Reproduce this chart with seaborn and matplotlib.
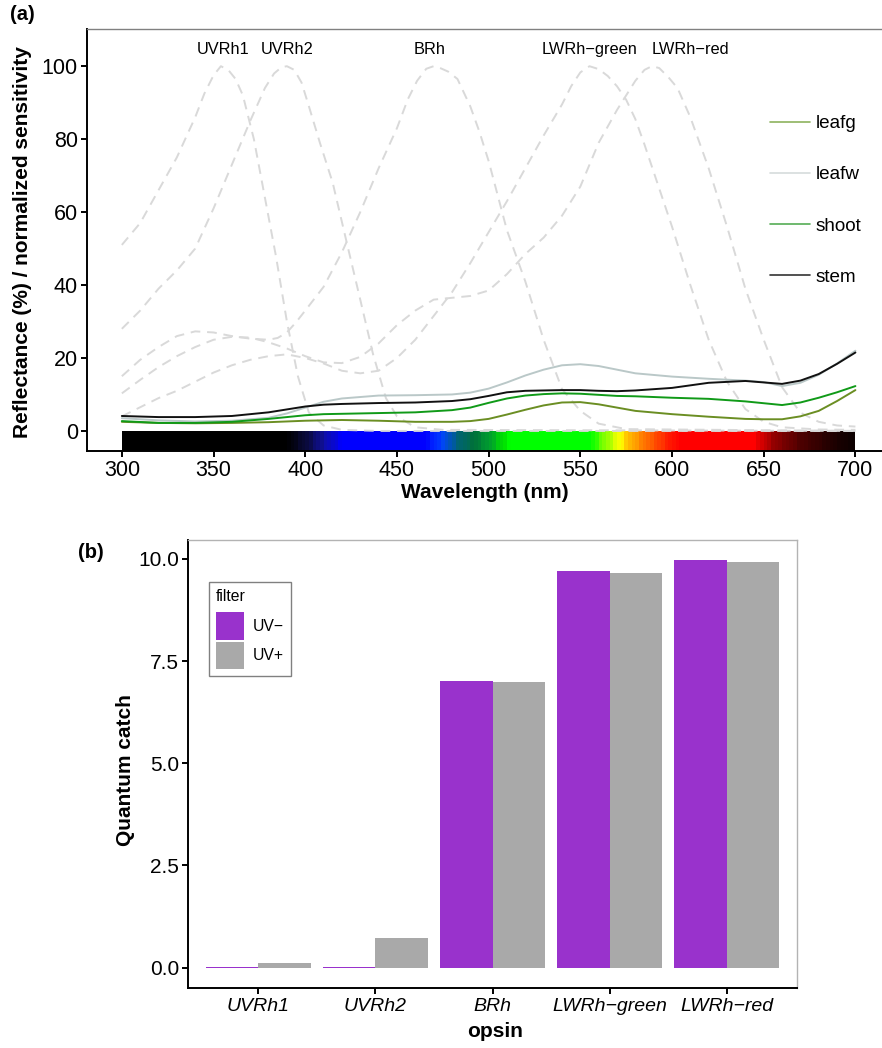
import numpy as np
import pandas as pd
import matplotlib
matplotlib.use("Agg")
import matplotlib.pyplot as plt
from matplotlib.colors import LinearSegmentedColormap
from matplotlib.lines import Line2D
import seaborn as sns

# ─────────────────────────────────────────
# Data: opsin sensitivity curves (normalized, %)
# ─────────────────────────────────────────
UVRH1_WL = [300, 310, 320, 330, 340, 345, 350, 354, 358, 362, 366, 372, 378, 384, 390, 396, 402, 410, 420, 440, 700]
UVRH1 = [51, 57, 66, 75, 86, 92.5, 97.5, 100, 99, 96.5, 92, 80, 64, 48, 30, 15, 5, 1.5, 0.3, 0, 0]

UVRH2_WL = [300, 310, 320, 330, 340, 350, 360, 370, 378, 383, 387, 390, 394, 398, 402, 408, 415, 422, 430, 437,
            444, 450, 460, 475, 700]
UVRH2 = [28, 33, 39, 44, 50, 61, 73, 85, 94, 98, 99.7, 100, 99, 95.5, 89, 79, 68, 53, 36, 21,
         9, 4, 1, 0.3, 0]

BRH_WL = [300, 310, 320, 330, 340, 350, 360, 370, 380, 385, 390, 395, 400, 410, 420, 430, 440, 450, 456, 461,
          466, 470, 474, 478, 483, 490, 495, 500, 510, 520, 530, 540, 550, 560, 575, 700]
BRH = [15, 19.5, 23, 26, 27.3, 27, 26, 25.3, 25, 25.5, 27, 29.8, 33, 39.5, 49, 60, 72, 83, 91, 96,
       99.3, 100, 99.4, 98.5, 96.5, 89, 82, 74, 55, 41, 25, 11.5, 5.5, 2, 0.5, 0]

LWG_WL = [300, 310, 320, 330, 340, 350, 360, 370, 380, 390, 400, 410, 420, 430, 440, 450, 460, 470, 480, 490,
          500, 510, 520, 530, 540, 545, 550, 555, 560, 565, 570, 575, 580, 585, 590, 600, 610, 620, 630, 640,
          650, 660, 680, 700]
LWG = [4, 6.5, 9, 11, 13.5, 16, 18, 19.5, 20.5, 21, 20, 18.5, 16.5, 15.8, 16.5, 20, 25, 31.5, 38, 46,
       54.5, 63, 72, 81, 89.5, 94.5, 98.3, 100, 99.2, 97.3, 94.5, 90.8, 85.5, 78.5, 71, 56, 40, 25, 13.5, 6,
       2.5, 1, 0.4, 0.3]

LWR_WL = [300, 310, 320, 330, 340, 350, 360, 370, 380, 390, 400, 410, 420, 430, 440, 450, 460, 470, 480, 490,
          500, 510, 520, 530, 540, 550, 560, 570, 580, 585, 589, 593, 598, 603, 610, 620, 630, 640, 650, 660,
          670, 680, 690, 700]
LWR = [10.3, 14, 17.5, 20.5, 23, 25, 25.8, 25.6, 24.3, 22.6, 20.5, 18.8, 18.6, 20.3, 24, 29, 33, 36, 36.5, 37,
       38.5, 43, 48.5, 53, 59, 67, 79, 88, 96, 99, 100, 99.5, 97, 94, 86, 72, 56, 39, 25, 12,
       5, 2.5, 1.5, 1.2]

OPSINS = ["UVRh1", "UVRh2", "BRh", "LWRh\u2212green", "LWRh\u2212red"]
OPSIN_LABEL_X = [355, 390, 468, 555, 610]

# ─────────────────────────────────────────
# Data: reflectance spectra (%)
# ─────────────────────────────────────────
REFL_WL = [300, 320, 340, 360, 380, 390, 400, 410, 420, 440, 460, 480, 490, 500, 510, 520, 530, 540, 550,
           560, 570, 580, 600, 620, 640, 650, 660, 670, 680, 690, 700]
LEAFG = [2.5, 2.2, 2.1, 2.2, 2.4, 2.6, 2.8, 2.9, 3.0, 2.8, 2.5, 2.5, 2.7, 3.3, 4.5, 5.8, 7.0, 7.8, 7.9,
         7.3, 6.4, 5.5, 4.6, 3.9, 3.3, 3.2, 3.2, 4.0, 5.5, 8.2, 11.2]
LEAFW = [3.5, 2.9, 2.6, 2.8, 3.6, 4.8, 6.4, 8.0, 8.9, 9.7, 9.8, 10.0, 10.5, 11.6, 13.3, 15.2, 16.8, 18.0, 18.3,
         17.8, 16.8, 15.8, 14.9, 14.3, 13.8, 13.4, 12.3, 13.2, 15.4, 18.5, 22.0]
SHOOT = [2.7, 2.2, 2.2, 2.5, 3.3, 3.8, 4.3, 4.6, 4.7, 4.9, 5.1, 5.7, 6.4, 7.7, 8.9, 9.7, 10.1, 10.3, 10.2,
         9.9, 9.6, 9.5, 9.1, 8.8, 8.1, 7.6, 7.1, 7.8, 9.1, 10.6, 12.3]
STEM = [4.1, 3.8, 3.8, 4.1, 5.1, 5.9, 6.7, 7.2, 7.4, 7.65, 7.8, 8.2, 8.7, 9.6, 10.6, 11.0, 11.1, 11.2, 11.2,
        11.0, 10.9, 11.1, 11.8, 13.2, 13.7, 13.3, 12.9, 13.8, 15.6, 18.4, 21.5]
TISSUES = ["leafg", "leafw", "shoot", "stem"]

# spectrum colour stops (wavelength, colour)
SPEC_WL = [300, 390, 400, 410, 420, 465, 475, 482, 492, 500, 508, 512, 556, 565, 572, 578, 588, 598,
           604, 646, 655, 670, 690, 700]
SPEC_COL = ["#000000", "#000000", "#0a0a3a", "#1010a0", "#0000ff", "#0000ff", "#0044ff", "#006080",
            "#00703a", "#009a30", "#00e000", "#00ff00", "#00ff00", "#99ff00", "#ffff00", "#ffb000",
            "#ff6000", "#ff2000", "#ff0000", "#ff0000", "#990000", "#500000", "#1a0000", "#0d0000"]

# ─────────────────────────────────────────
# Data: quantum catch
# ─────────────────────────────────────────
FILTERS = ["UV\u2212", "UV+"]
QC_UVMINUS = [0.02, 0.02, 7.02, 9.70, 9.96]
QC_UVPLUS = [0.12, 0.72, 6.98, 9.65, 9.93]

# ─────────────────────────────────────────
# Style
# ─────────────────────────────────────────
sns.set_theme(style="ticks")
plt.rcParams["font.family"] = ["Liberation Sans", "DejaVu Sans"]
plt.rcParams["axes.unicode_minus"] = True
for key in ["text.color", "axes.labelcolor", "xtick.color", "ytick.color", "legend.labelcolor"]:
    plt.rcParams[key] = "black"

LINE_COL = {"leafg": "#6b8e23", "leafw": "#bac8c8", "shoot": "#109a18", "stem": "#111111"}
LEG_COL = {"leafg": "#8db35d", "leafw": "#d6dcdc", "shoot": "#55ad55", "stem": "#333333"}
DASH_COL = "#d9d9d9"
BAR_COL = {"UV\u2212": "#9932cc", "UV+": "#a9a9a9"}
TITLE_FS = 15

W, H = 882, 1048
fig = plt.figure(figsize=(W / 100, H / 100), dpi=100)
ax1 = fig.add_axes([87 / W, 1 - 451 / H, (W - 87) / W, (451 - 29) / H])
ax2 = fig.add_axes([188 / W, 1 - 988 / H, (797 - 188) / W, (988 - 540) / H])

# ─────────────────────────────────────────
# (a) spectra
# ─────────────────────────────────────────
curves = [(UVRH1_WL, UVRH1), (UVRH2_WL, UVRH2), (BRH_WL, BRH), (LWG_WL, LWG), (LWR_WL, LWR)]
for wl, val in curves:
    sns.lineplot(x=wl, y=val, ax=ax1, color=DASH_COL, lw=1.4, estimator=None,
                 dashes=False, linestyle=(0, (5, 3.5)))

refl = pd.DataFrame({
    "wl": REFL_WL * 4,
    "refl": LEAFG + LEAFW + SHOOT + STEM,
    "tissue": np.repeat(TISSUES, len(REFL_WL)),
})
sns.lineplot(data=refl, x="wl", y="refl", hue="tissue", palette=LINE_COL,
             estimator=None, lw=1.4, ax=ax1, legend=False)

cmap = LinearSegmentedColormap.from_list(
    "spec", [((w - 300) / 400, c) for w, c in zip(SPEC_WL, SPEC_COL)])
steps = np.arange(300, 700, 2)
ax1.bar(steps, 5.5, bottom=-5.5, width=2, align="edge",
        color=cmap((steps + 1 - 300) / 400), linewidth=0)

for name, xpos in zip(OPSINS, OPSIN_LABEL_X):
    ax1.text(xpos, 104.7, name, ha="center", va="center", fontsize=11.8, color="black")

ax1.set_xlim(281, 714.5)
ax1.set_ylim(-5.5, 110.2)
ax1.set_xticks(range(300, 701, 50))
ax1.set_yticks(range(0, 101, 20))
ax1.set_xlabel("Wavelength (nm)", fontsize=TITLE_FS, fontweight="bold")
ax1.set_ylabel("Reflectance (%) / normalized sensitivity", fontsize=TITLE_FS, fontweight="bold")
ax1.xaxis.set_label_coords(0.5, -0.077)
ax1.yaxis.set_label_coords(-0.069, 0.495)
ax1.spines["right"].set_visible(False)
ax1.spines["top"].set_color("#808080")
ax1.spines["top"].set_linewidth(1.0)
for s in ["left", "bottom"]:
    ax1.spines[s].set_color("black")
    ax1.spines[s].set_linewidth(1.4)
ax1.tick_params(axis="both", colors="black", length=4.5, width=1.4, labelsize=15.5, pad=2)

handles = [Line2D([0], [0], color=LEG_COL[t], lw=1.2) for t in TISSUES]
leg1 = ax1.legend(handles, TISSUES, loc="upper left", bbox_to_anchor=(770 / W, 1 - 115 / H),
                  bbox_transform=fig.transFigure, frameon=False, fontsize=13.6,
                  handlelength=2.1, handletextpad=0.32, labelspacing=1.8,
                  borderaxespad=0, borderpad=0)

fig.text(10 / W, 1 - 14 / H, "(a)", fontsize=14.5, fontweight="bold", va="center", ha="left")

# ─────────────────────────────────────────
# (b) quantum catch
# ─────────────────────────────────────────
qc = pd.DataFrame({
    "opsin": OPSINS * 2,
    "catch": QC_UVMINUS + QC_UVPLUS,
    "filter": np.repeat(FILTERS, len(OPSINS)),
})
sns.barplot(data=qc, x="opsin", y="catch", hue="filter", order=OPSINS, hue_order=FILTERS,
            palette=BAR_COL, width=0.9, gap=0, linewidth=0, saturation=1, ax=ax2)

ax2.set_xlim(-0.6, 4.6)
ax2.set_ylim(-0.498, 10.46)
ax2.set_yticks([0, 2.5, 5, 7.5, 10])
ax2.set_yticklabels(["0.0", "2.5", "5.0", "7.5", "10.0"])
ax2.set_xlabel("opsin", fontsize=TITLE_FS, fontweight="bold")
ax2.set_ylabel("Quantum catch", fontsize=TITLE_FS, fontweight="bold")
ax2.xaxis.set_label_coords(0.505, -0.075)
ax2.yaxis.set_label_coords(-0.087, 0.486)
for lab in ax2.get_xticklabels():
    lab.set_fontstyle("italic")
for s in ["top", "right"]:
    ax2.spines[s].set_visible(True)
    ax2.spines[s].set_color("#b3b3b3")
    ax2.spines[s].set_linewidth(1.0)
for s in ["left", "bottom"]:
    ax2.spines[s].set_color("black")
    ax2.spines[s].set_linewidth(1.4)
ax2.tick_params(axis="y", colors="black", length=4.5, width=1.4, labelsize=15, pad=2)
ax2.tick_params(axis="x", colors="black", length=4.5, width=1.4, labelsize=14, pad=3)

h, l = ax2.get_legend_handles_labels()
leg2 = ax2.legend(h, l, title="filter", loc="upper left", bbox_to_anchor=(209 / W, 1 - 582 / H),
                  bbox_transform=fig.transFigure, fontsize=11.3, title_fontsize=11.3,
                  handlelength=1.75, handleheight=2.3, handletextpad=0.6, labelspacing=0.12,
                  borderpad=0.45, borderaxespad=0, fancybox=False, framealpha=1)
leg2.get_frame().set_edgecolor("#808080")
leg2.get_frame().set_linewidth(1.0)
leg2._legend_box.align = "left"
leg2._legend_box.sep = 6

fig.text(78 / W, 1 - 552 / H, "(b)", fontsize=14.5, fontweight="bold", va="center", ha="left")

fig.savefig("out.png", dpi=100)
